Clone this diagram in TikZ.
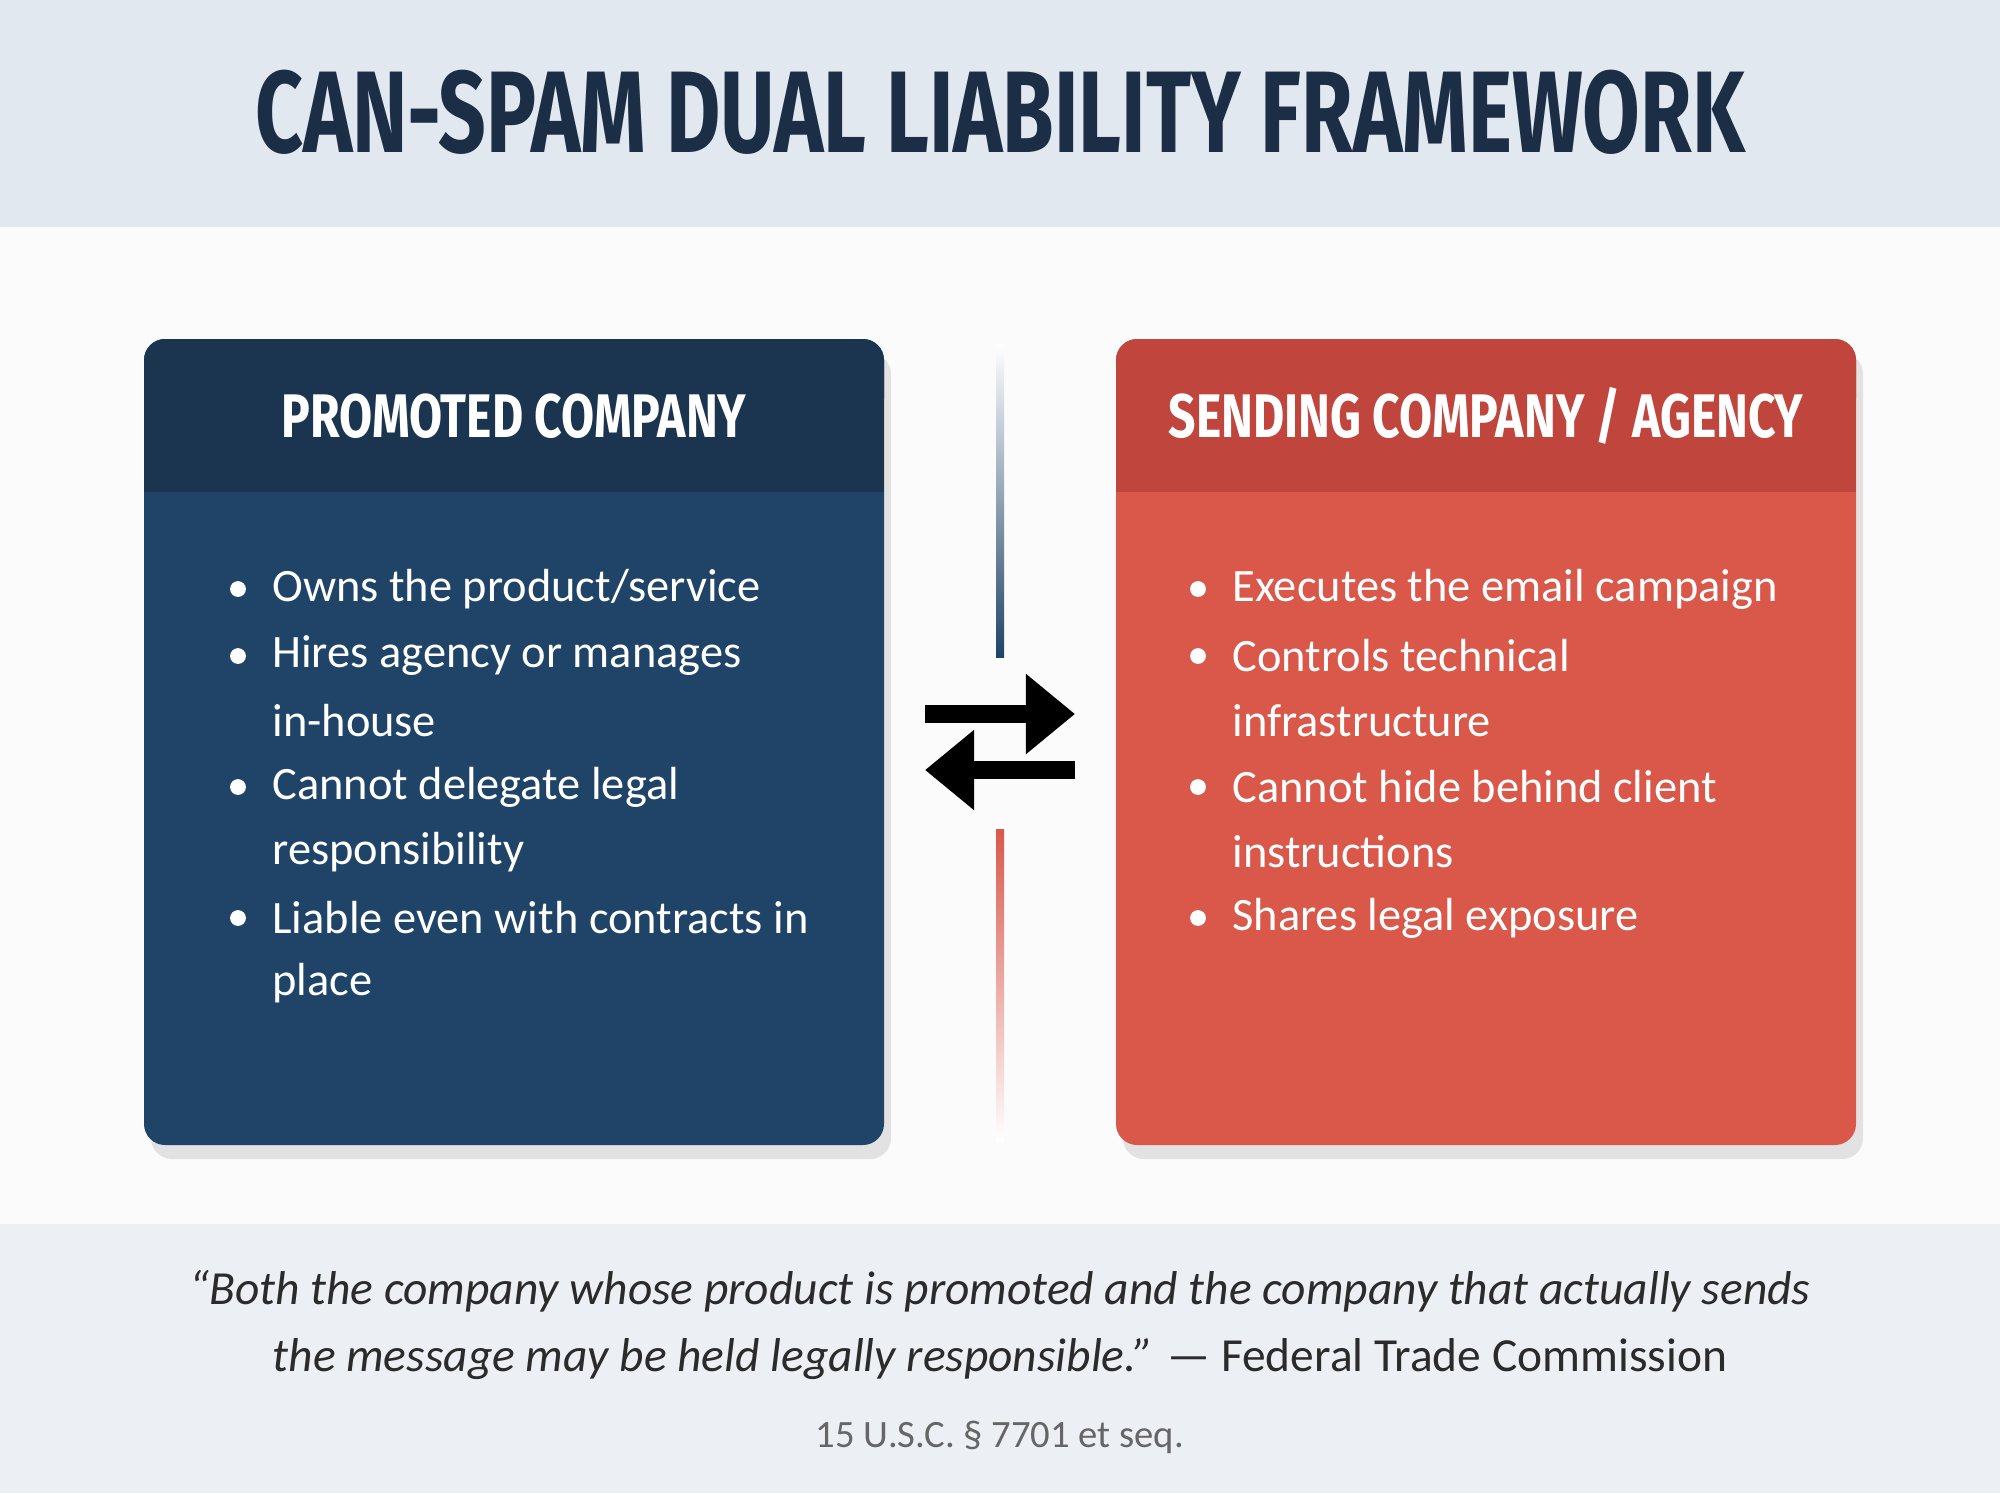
\documentclass[tikz,border=0pt]{standalone}
\usepackage{fontspec}
\setmainfont{Carlito}
\newfontfamily\titlefont{Fira Sans}
\usetikzlibrary{shadows,arrows.meta}
\definecolor{bandc}{HTML}{E1E8EF}
\definecolor{titlec}{HTML}{1C2E45}
\definecolor{bluebox}{HTML}{1F4467}
\definecolor{bluehead}{HTML}{1B3550}
\definecolor{redbox}{HTML}{D9584A}
\definecolor{redhead}{HTML}{BF453D}
\definecolor{footc}{HTML}{ECEFF3}
\definecolor{quotec}{HTML}{2B2B2B}
\definecolor{citec}{HTML}{666666}
\tikzset{
  box/.style={rounded corners=6pt, drop shadow={opacity=0.2,shadow xshift=2pt,shadow yshift=-4pt}},
  headtxt/.style={text=white, font=\titlefont\bfseries\fontsize{17.5}{20}\selectfont, xscale=0.78},
  bul/.style={text=white, anchor=west, font=\fontsize{13.2}{16}\selectfont},
  dot/.style={circle, fill=white, inner sep=0pt, minimum size=4.5pt},
  arr/.style={line width=5pt, -{Triangle[length=14pt,width=22pt]}}
}
\begin{document}
\begin{tikzpicture}[x=0.01cm,y=-0.01cm]
\useasboundingbox (0,0) rectangle (2000,1493);
\fill[white!97!gray] (0,0) rectangle (2000,1493);
\fill[bandc] (0,0) rectangle (2000,227);
\node[text=titlec, font=\titlefont\bfseries\fontsize{33}{38}\selectfont, xscale=0.72] (title) at (1000,112) {CAN-SPAM DUAL LIABILITY FRAMEWORK};
% left box
\fill[bluebox, box] (144,339) rectangle (884,1145);
\fill[bluehead, rounded corners=6pt] (144,339) rectangle (884,420);
\fill[bluehead] (144,400) rectangle (884,492);
\node[headtxt] (lh) at (514,416) {PROMOTED COMPANY};
% right box
\fill[redbox, box] (1116,339) rectangle (1856,1145);
\fill[redhead, rounded corners=6pt] (1116,339) rectangle (1856,420);
\fill[redhead] (1116,400) rectangle (1856,492);
\node[headtxt] (rh) at (1486,416) {SENDING COMPANY / AGENCY};
% bullets left
\foreach \y/\t in {589/{Owns the product/service}, 656/{Hires agency or manages}, 787/{Cannot delegate legal}, 918/{Liable even with contracts in}}{
  \node[dot] at (238,\y) {}; \node[bul] at (260,\y) {\t};}
\foreach \y/\t in {721/in-house, 852/responsibility, 983/place}{
  \node[bul] at (260,\y) {\t};}
% bullets right
\foreach \y/\t in {589/{Executes the email campaign}, 656/{Controls technical}, 787/{Cannot hide behind client}, 918/{Shares legal exposure}}{
  \node[dot] at (1198,\y) {}; \node[bul] at (1220,\y) {\t};}
\foreach \y/\t in {721/infrastructure, 852/instructions}{
  \node[bul] at (1220,\y) {\t};}
% divider
\shade[top color=white, bottom color=bluebox] (996,344) rectangle (1004,657);
\shade[top color=redbox, bottom color=white] (996,829) rectangle (1004,1142);
% arrows
\coordinate (a1) at (925,714); \coordinate (a2) at (1075,714);
\coordinate (b1) at (1075,770); \coordinate (b2) at (925,770);
\draw[arr] (a1) -- (a2);
\draw[arr] (b1) -- (b2);
% footer
\fill[footc] (0,1224) rectangle (2000,1493);
\node[text=quotec, font=\fontsize{13.5}{18.8}\selectfont, align=center] (q) at (1000,1325)
  {\itshape “Both the company whose product is promoted and the company that actually sends\\
   \itshape the message may be held legally responsible.” \upshape — Federal Trade Commission};
\node[text=citec, font=\fontsize{11}{13}\selectfont] (c) at (1000,1437) {15 U.S.C. § 7701 et seq.};
\end{tikzpicture}
\end{document}
